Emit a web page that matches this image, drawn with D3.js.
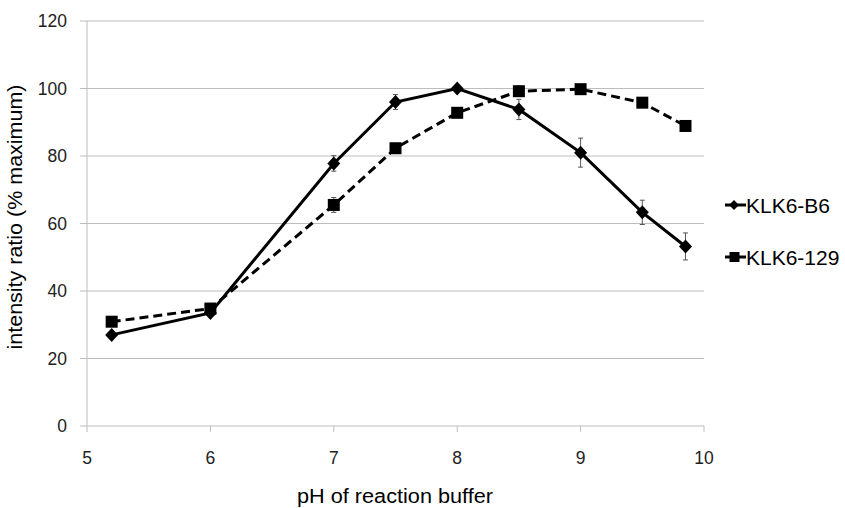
<!DOCTYPE html>
<html>
<head>
<meta charset="utf-8">
<script src="https://cdn.jsdelivr.net/npm/d3@7"></script>
<style>
  html, body { margin: 0; padding: 0; background: #fff; }
  svg { display: block; font-family: "Liberation Sans", Arial, sans-serif; }
</style>
</head>
<body>
<svg id="chart" width="845" height="508"></svg>
<script>
const phValues = [5.2, 6, 7, 7.5, 8, 8.5, 9, 9.5, 9.85];
const b6Values = [27, 33.5, 77.8, 96, 100, 93.8, 81, 63.3, 53.2];
const b6Errors = [0.8, 0.8, 2.3, 2.2, 0.5, 3, 4.3, 3.6, 4];
const s129Values = [30.9, 34.8, 65.5, 82.3, 92.8, 99.2, 99.8, 95.8, 88.9];
const s129Errors = [0.8, 0.8, 2.2, 1.2, 0.8, 1.5, 0.8, 1, 0.8];
const xTicks = [5, 6, 7, 8, 9, 10];
const yTicks = [0, 20, 40, 60, 80, 100, 120];
const seriesNames = ["KLK6-B6", "KLK6-129"];

const svg = d3.select("#chart");
const x = d3.scaleLinear().domain([5, 10]).range([87, 704]);
const y = d3.scaleLinear().domain([0, 120]).range([426, 21]);

// gridlines
svg.append("g").selectAll("line").data(yTicks).join("line")
  .attr("x1", 80).attr("x2", 704)
  .attr("y1", d => y(d)).attr("y2", d => y(d))
  .attr("stroke", "#bdbdbd").attr("stroke-width", 1);

// y axis line
svg.append("line").attr("x1", 87).attr("x2", 87).attr("y1", y(120)).attr("y2", y(0))
  .attr("stroke", "#bdbdbd").attr("stroke-width", 1);

// x axis ticks
svg.append("g").selectAll("line").data(xTicks).join("line")
  .attr("x1", d => x(d)).attr("x2", d => x(d))
  .attr("y1", y(0)).attr("y2", y(0) + 6)
  .attr("stroke", "#bdbdbd").attr("stroke-width", 1);

// tick labels
svg.append("g").selectAll("text").data(yTicks).join("text")
  .attr("x", 67).attr("y", d => y(d) + 6)
  .attr("text-anchor", "end").attr("font-size", 17.5).attr("fill", "#222")
  .text(d => d);
svg.append("g").selectAll("text").data(xTicks).join("text")
  .attr("x", d => x(d)).attr("y", 464)
  .attr("text-anchor", "middle").attr("font-size", 17.5).attr("fill", "#222")
  .text(d => d);

// axis titles
svg.append("text").attr("x", 395).attr("y", 503).attr("text-anchor", "middle")
  .attr("font-size", 19.5).attr("fill", "#000")
  .attr("textLength", 196).attr("lengthAdjust", "spacingAndGlyphs")
  .text("pH of reaction buffer");
svg.append("text").attr("transform", "translate(21.5,217) rotate(-90)")
  .attr("text-anchor", "middle").attr("font-size", 19.5).attr("fill", "#000")
  .attr("textLength", 265).attr("lengthAdjust", "spacingAndGlyphs")
  .text("intensity ratio (% maximum)");

const line = d3.line().x(d => x(d[0])).y(d => y(d[1]));
const b6Data = phValues.map((p, i) => [p, b6Values[i], b6Errors[i]]);
const s129Data = phValues.map((p, i) => [p, s129Values[i], s129Errors[i]]);

function errorBars(data) {
  const g = svg.append("g").attr("stroke", "#555").attr("stroke-width", 1);
  data.forEach(d => {
    g.append("line").attr("x1", x(d[0])).attr("x2", x(d[0]))
      .attr("y1", y(d[1] + d[2])).attr("y2", y(d[1] - d[2]));
    [d[1] + d[2], d[1] - d[2]].forEach(v => {
      g.append("line").attr("x1", x(d[0]) - 2.5).attr("x2", x(d[0]) + 2.5)
        .attr("y1", y(v)).attr("y2", y(v));
    });
  });
}
errorBars(s129Data);
errorBars(b6Data);

// lines
svg.append("path").datum(s129Data).attr("d", line)
  .attr("fill", "none").attr("stroke", "#000").attr("stroke-width", 3)
  .attr("stroke-dasharray", "9,5");
svg.append("path").datum(b6Data).attr("d", line)
  .attr("fill", "none").attr("stroke", "#000").attr("stroke-width", 3);

const diamond = "M0,-7L6.5,0L0,7L-6.5,0Z";
svg.append("g").selectAll("rect").data(s129Data).join("rect")
  .attr("x", d => x(d[0]) - 6).attr("y", d => y(d[1]) - 6)
  .attr("width", 12).attr("height", 12).attr("fill", "#000");
svg.append("g").selectAll("path").data(b6Data).join("path")
  .attr("transform", d => `translate(${x(d[0])},${y(d[1])})`)
  .attr("d", diamond).attr("fill", "#000");

// legend
const legY = [205, 257];
seriesNames.forEach((name, i) => {
  const g = svg.append("g").attr("transform", `translate(0,${legY[i]})`);
  g.append("line").attr("x1", 725).attr("x2", 746).attr("y1", 0).attr("y2", 0)
    .attr("stroke", "#000").attr("stroke-width", 3);
  if (i === 0) {
    g.append("path").attr("transform", "translate(734,0)").attr("d", "M0,-5L5,0L0,5L-5,0Z").attr("fill", "#000");
  } else {
    g.append("rect").attr("x", 729.5).attr("y", -5).attr("width", 10).attr("height", 10).attr("fill", "#000");
  }
  g.append("text").attr("x", 746).attr("y", 8).attr("font-size", 21).attr("fill", "#000").text(name);
});
</script>
</body>
</html>
